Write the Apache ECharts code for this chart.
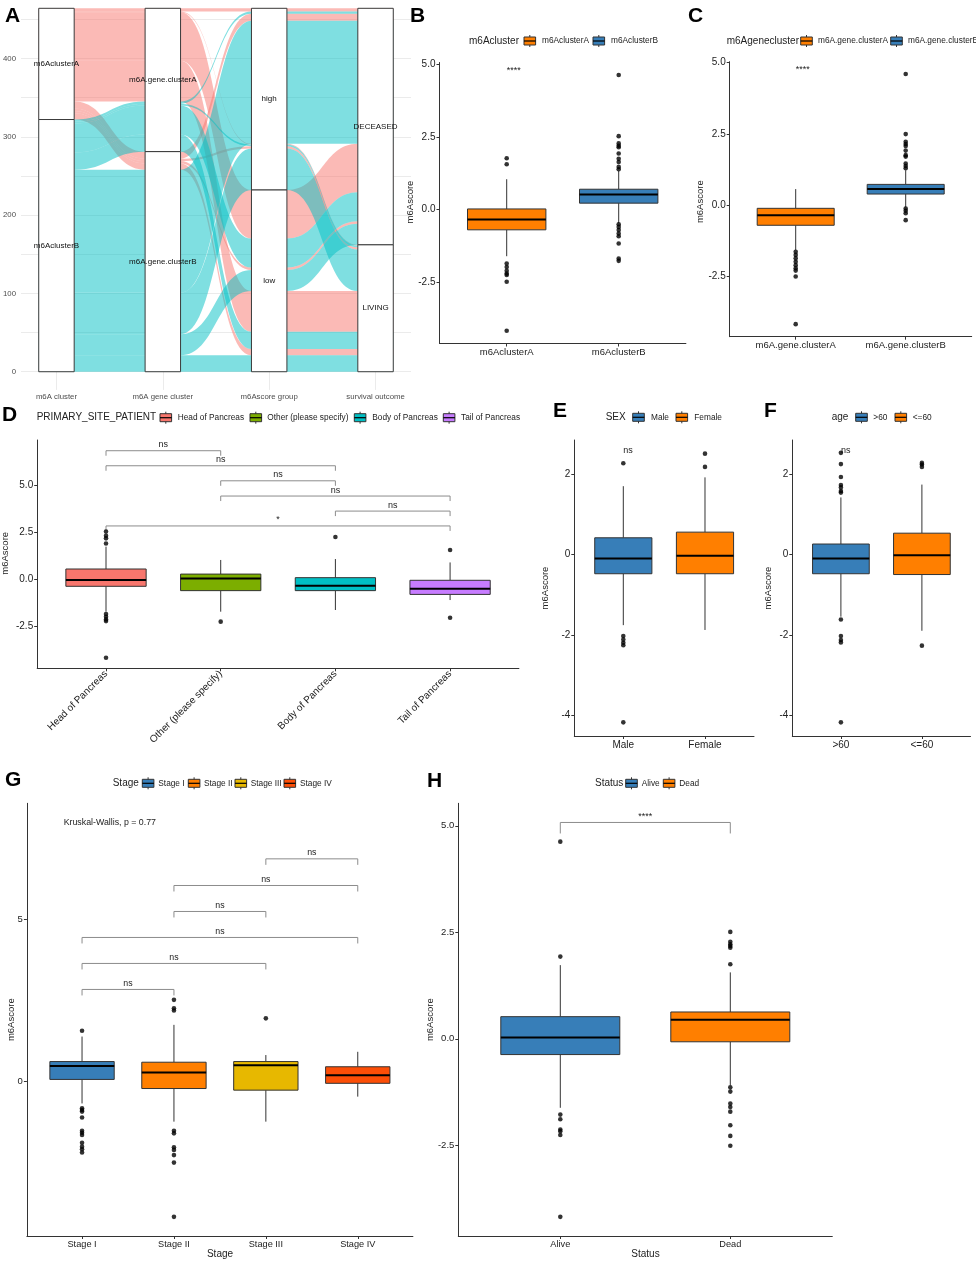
<!DOCTYPE html>
<html><head><meta charset="utf-8">
<script src="https://cdn.jsdelivr.net/npm/echarts@6/dist/echarts.min.js"></script>
<style>html,body{margin:0;padding:0;background:#fff}#c{width:976px;height:1261px}</style>
</head><body><div id="c"></div>
<script>
const FONT = '"Liberation Sans", Arial, Helvetica, sans-serif';
const BLUE = '#377EB8', ORANGE = '#FF7F00';

// ---------------- Panel A (alluvial) data ----------------
const alluvialAxes = ['m6A cluster', 'm6A gene cluster', 'm6Ascore group', 'survival outcome'];
const alluvialLevels = [
  ['m6AclusterA', 'm6AclusterB'],
  ['m6A.gene.clusterA', 'm6A.gene.clusterB'],
  ['high', 'low'],
  ['DECEASED', 'LIVING']
];
// [m6A cluster, m6A gene cluster, m6Ascore group, survival outcome, patients]
const alluvialFlows = [
  ['m6AclusterA', 'm6A.gene.clusterA', 'high', 'DECEASED', 4],
  ['m6AclusterA', 'm6A.gene.clusterA', 'high', 'LIVING', 1],
  ['m6AclusterA', 'm6A.gene.clusterA', 'low', 'DECEASED', 62],
  ['m6AclusterA', 'm6A.gene.clusterA', 'low', 'LIVING', 52],
  ['m6AclusterA', 'm6A.gene.clusterB', 'high', 'DECEASED', 9],
  ['m6AclusterA', 'm6A.gene.clusterB', 'high', 'LIVING', 3],
  ['m6AclusterA', 'm6A.gene.clusterB', 'low', 'DECEASED', 3],
  ['m6AclusterA', 'm6A.gene.clusterB', 'low', 'LIVING', 8],
  ['m6AclusterB', 'm6A.gene.clusterA', 'high', 'DECEASED', 3],
  ['m6AclusterB', 'm6A.gene.clusterA', 'high', 'LIVING', 2],
  ['m6AclusterB', 'm6A.gene.clusterA', 'low', 'DECEASED', 37],
  ['m6AclusterB', 'm6A.gene.clusterA', 'low', 'LIVING', 22],
  ['m6AclusterB', 'm6A.gene.clusterB', 'high', 'DECEASED', 157],
  ['m6AclusterB', 'm6A.gene.clusterB', 'high', 'LIVING', 53],
  ['m6AclusterB', 'm6A.gene.clusterB', 'low', 'DECEASED', 27],
  ['m6AclusterB', 'm6A.gene.clusterB', 'low', 'LIVING', 21]
];
const alluvialFill = {'m6AclusterA': 'rgba(248,118,109,0.5)', 'm6AclusterB': 'rgba(0,191,196,0.5)'};
const alluvialTicks = [0, 100, 200, 300, 400];
const alluvialGridTicks = [0, 50, 100, 150, 200, 250, 300, 350, 400, 450];

// ---------------- Panel B ----------------
const bCats = ['m6AclusterA', 'm6AclusterB'];
const bStats = [[-1.61, -0.70, -0.345, 0.02, 1.045], [-0.47, 0.22, 0.52, 0.70, 1.33]];
const bOutliers = [
  [1.77, 1.56, -1.86, -1.98, -2.11, -2.21, -2.26, -2.49, -4.18],
  [4.64, 2.53, 2.28, 2.2, 2.15, 1.93, 1.75, 1.64, 1.47, 1.39, -0.51, -0.6, -0.71, -0.83, -0.92, -1.17, -1.69, -1.77]
];
const bTicks = [-2.5, 0, 2.5, 5];
const bNotes = [[1, 4.8, '****']];

// ---------------- Panel C ----------------
const cCats = ['m6A.gene.clusterA', 'm6A.gene.clusterB'];
const cStats = [[-1.58, -0.71, -0.36, -0.115, 0.56], [-0.08, 0.386, 0.56, 0.725, 1.22]];
const cOutliers = [
  [-1.64, -1.75, -1.87, -1.99, -2.11, -2.22, -2.30, -2.51, -4.18],
  [4.6, 2.49, 2.22, 2.14, 2.07, 1.91, 1.75, 1.70, 1.46, 1.37, 1.29, -0.12, -0.2, -0.29, -0.53]
];
const cTicks = [-2.5, 0, 2.5, 5];
const cNotes = [[1, 4.77, '****']];

// ---------------- Panel D ----------------
const dCats = ['Head of Pancreas', 'Other (please specify)', 'Body of Pancreas', 'Tail of Pancreas'];
const dStats = [[-1.72, -0.37, -0.035, 0.55, 1.74], [-1.72, -0.60, 0.05, 0.28, 1.03], [-1.63, -0.60, -0.34, 0.09, 1.08], [-1.10, -0.80, -0.50, -0.05, 0.90]];
const dOutliers = [[2.54, 2.32, 2.18, 1.91, -1.84, -1.99, -2.13, -2.22, -4.17], [-2.25], [2.25], [1.56, -2.04]];
const dTicks = [-2.5, 0, 2.5, 5];
const dBrackets = [[1, 2, 6.84, 'ns'], [1, 3, 6.04, 'ns'], [2, 3, 5.24, 'ns'], [2, 4, 4.43, 'ns'], [3, 4, 3.63, 'ns'], [1, 4, 2.84, '*']];

// ---------------- Panel E ----------------
const eCats = ['Male', 'Female'];
const eStats = [[-1.76, -0.48, -0.10, 0.415, 1.70], [-1.88, -0.48, -0.03, 0.556, 1.92]];
const eOutliers = [[2.27, -2.03, -2.12, -2.2, -2.26, -4.18], [2.51, 2.18]];
const eTicks = [-4, -2, 0, 2];
const eNotes = [[1, 2.6, 'ns']];

// ---------------- Panel F ----------------
const fCats = ['>60', '<=60'];
const fStats = [[-1.55, -0.48, -0.10, 0.26, 1.42], [-1.90, -0.50, -0.02, 0.53, 1.74]];
const fOutliers = [[2.53, 2.25, 1.93, 1.73, 1.67, 1.58, 1.54, -1.62, -2.03, -2.13, -2.19, -4.18], [2.28, 2.24, 2.18, -2.27]];
const fTicks = [-4, -2, 0, 2];
const fNotes = [[1, 2.6, 'ns']];

// ---------------- Panel G ----------------
const gCats = ['Stage I', 'Stage II', 'Stage III', 'Stage IV'];
const gStats = [[-0.67, 0.07, 0.48, 0.62, 1.39], [-1.23, -0.21, 0.28, 0.60, 1.75], [-1.23, -0.26, 0.51, 0.62, 0.82], [-0.46, -0.05, 0.20, 0.46, 0.92]];
const gOutliers = [
  [1.57, -0.82, -0.87, -0.92, -1.10, -1.51, -1.57, -1.64, -1.88, -2.00, -2.08, -2.18],
  [2.52, 2.26, 2.19, -1.51, -1.59, -2.02, -2.10, -2.26, -2.49, -4.16],
  [1.95],
  []
];
const gTicks = [0, 5];
const gBrackets = [[1, 2, 2.84, 'ns'], [1, 3, 3.64, 'ns'], [1, 4, 4.44, 'ns'], [2, 3, 5.24, 'ns'], [2, 4, 6.04, 'ns'], [3, 4, 6.86, 'ns']];
const gNotes = [[0.8, 7.98, 'Kruskal-Wallis, p = 0.77']];

// ---------------- Panel H ----------------
const hCats = ['Alive', 'Dead'];
const hStats = [[-1.62, -0.37, 0.03, 0.52, 1.73], [-1.09, -0.07, 0.45, 0.63, 1.56]];
const hOutliers = [
  [4.63, 1.93, -1.78, -1.89, -2.13, -2.17, -2.26, -4.18],
  [2.51, 2.28, 2.22, 2.18, 2.14, 1.75, -1.14, -1.24, -1.52, -1.60, -1.71, -2.03, -2.28, -2.51]
];
const hTicks = [-2.5, 0, 2.5, 5];
const hBrackets = [[1, 2, 5.08, '****']];

// ================= build =================
const grids = [], xAxes = [], yAxes = [], series = [], graphics = [];

function addGrid(l, t, r, b) {
  grids.push({left: l, top: t, width: r - l, height: b - t, containLabel: false});
  return grids.length - 1;
}

// ---- Panel A ----
(function () {
  const gi = addGrid(18.9, 8.3, 411, 389.9);
  const total = alluvialFlows.reduce((s, f) => s + f[4], 0);
  xAxes.push({type: 'value', gridIndex: gi, min: 0.6667, max: 4.3333,
    axisLine: {show: false, onZero: false}, axisTick: {show: false, customValues: [1, 2, 3, 4]},
    axisLabel: {customValues: [1, 2, 3, 4], formatter: v => alluvialAxes[Math.round(v) - 1], color: '#4D4D4D', fontSize: 7.8, fontFamily: FONT, margin: 3},
    splitLine: {show: true, lineStyle: {color: '#EBEBEB', width: 1}}});
  yAxes.push({type: 'value', gridIndex: gi, min: -23.2, max: total,
    axisLine: {show: false, onZero: false}, axisTick: {show: false, customValues: alluvialGridTicks},
    axisLabel: {customValues: alluvialTicks, color: '#4D4D4D', fontSize: 7.8, fontFamily: FONT, margin: 5},
    splitLine: {show: true, lineStyle: {color: '#EBEBEB', width: 1}}});

  const lvl = (f, k) => alluvialLevels[k].indexOf(f[k]);
  const lodeOrder = [[0, 1, 2, 3], [1, 0, 2, 3], [2, 3, 1, 0], [3, 2, 1, 0]];
  const lodes = alluvialFlows.map(() => []);
  for (let k = 0; k < 4; k++) {
    const idx = alluvialFlows.map((f, i) => i);
    idx.sort((a, b) => {
      for (const o of lodeOrder[k]) {
        const d = lvl(alluvialFlows[a], o) - lvl(alluvialFlows[b], o);
        if (d) return d;
      }
      return 0;
    });
    let top = total;
    for (const i of idx) { lodes[i][k] = [top - alluvialFlows[i][4], top]; top -= alluvialFlows[i][4]; }
  }
  const strata = [];
  for (let k = 0; k < 4; k++) {
    let top = total;
    alluvialLevels[k].forEach(name => {
      const n = alluvialFlows.filter(f => f[k] === name).reduce((s, f) => s + f[4], 0);
      strata.push([k + 1, top - n, top, name]);
      top -= n;
    });
  }
  const w = 1 / 3;
  series.push({
    type: 'custom', xAxisIndex: gi, yAxisIndex: gi, silent: true,
    data: alluvialFlows.map((f, i) => [1, 0, i]),
    renderItem: function (params, api) {
      const i = params.dataIndex, L = lodes[i];
      const P = (x, y) => api.coord([x, y]);
      let p = P(1 - w / 2, L[0][1]);
      let d = 'M' + p[0] + ',' + p[1];
      for (let k = 0; k < 4; k++) {
        const a = P(k + 1 + w / 2, L[k][1]);
        d += 'L' + a[0] + ',' + a[1];
        if (k < 3) {
          const b = P(k + 2 - w / 2, L[k + 1][1]);
          const mx = (a[0] + b[0]) / 2;
          d += 'C' + mx + ',' + a[1] + ' ' + mx + ',' + b[1] + ' ' + b[0] + ',' + b[1];
        }
      }
      p = P(4 + w / 2, L[3][0]);
      d += 'L' + p[0] + ',' + p[1];
      for (let k = 3; k >= 0; k--) {
        const a = P(k + 1 - w / 2, L[k][0]);
        d += 'L' + a[0] + ',' + a[1];
        if (k > 0) {
          const b = P(k + w / 2, L[k - 1][0]);
          const mx = (a[0] + b[0]) / 2;
          d += 'C' + mx + ',' + a[1] + ' ' + mx + ',' + b[1] + ' ' + b[0] + ',' + b[1];
        }
      }
      d += 'Z';
      return {type: 'path', shape: {pathData: d}, style: {fill: alluvialFill[alluvialFlows[i][0]], stroke: null}};
    }
  });
  series.push({
    type: 'custom', xAxisIndex: gi, yAxisIndex: gi, silent: true,
    data: strata.map(s => [s[0], s[1], s[2]]),
    renderItem: function (params, api) {
      const s = strata[params.dataIndex];
      const p1 = api.coord([s[0] - w / 2, s[2]]);
      const p2 = api.coord([s[0] + w / 2, s[1]]);
      const c = api.coord([s[0], (s[1] + s[2]) / 2]);
      return {type: 'group', children: [
        {type: 'rect', shape: {x: p1[0], y: p1[1], width: p2[0] - p1[0], height: p2[1] - p1[1]}, style: {fill: '#fff', stroke: '#3A3A3A', lineWidth: 1}},
        {type: 'text', x: c[0], y: c[1], style: {text: s[3], fill: '#111', font: '8px ' + FONT, align: 'center', verticalAlign: 'middle'}}
      ]};
    }
  });
})();

// ---- boxplot panels ----
function boxPanel(o) {
  const gi = addGrid(o.l, o.t, o.r, o.b);
  const vals = o.cats.map((c, i) => i + 1);
  xAxes.push({type: 'value', gridIndex: gi, min: 0.4, max: o.cats.length + 0.6,
    axisLine: {show: true, onZero: false, lineStyle: {color: '#333', width: 1}},
    axisTick: {show: true, customValues: vals, length: 3, lineStyle: {color: '#333', width: 1}},
    axisLabel: {customValues: vals, formatter: v => o.cats[Math.round(v) - 1], color: '#222', fontSize: o.xfs, fontFamily: FONT, margin: 4, rotate: o.rotate || 0},
    splitLine: {show: false}});
  yAxes.push({type: 'value', gridIndex: gi, min: o.ymin, max: o.ymax,
    axisLine: {show: true, onZero: false, lineStyle: {color: '#333', width: 1}},
    axisTick: {show: true, customValues: o.ticks, length: 3, lineStyle: {color: '#333', width: 1}},
    axisLabel: {customValues: o.ticks, formatter: o.fmt, color: '#222', fontSize: o.yfs, fontFamily: FONT, margin: 4},
    splitLine: {show: false}});
  const stats = o.stats, colors = o.colors;
  series.push({
    type: 'custom', xAxisIndex: gi, yAxisIndex: gi, silent: true,
    data: stats.map((s, i) => [i + 1].concat(s)),
    renderItem: function (params, api) {
      const x = api.value(0);
      const lo = api.coord([x, api.value(1)]), q1 = api.coord([x, api.value(2)]), md = api.coord([x, api.value(3)]),
        q3 = api.coord([x, api.value(4)]), hi = api.coord([x, api.value(5)]);
      const hw = api.size([0.7, 0])[0] / 2;
      const c = colors[params.dataIndex];
      return {type: 'group', children: [
        {type: 'line', shape: {x1: lo[0], y1: lo[1], x2: q1[0], y2: q1[1]}, style: {stroke: '#333', lineWidth: 1}},
        {type: 'line', shape: {x1: q3[0], y1: q3[1], x2: hi[0], y2: hi[1]}, style: {stroke: '#333', lineWidth: 1}},
        {type: 'rect', shape: {x: q3[0] - hw, y: q3[1], width: 2 * hw, height: q1[1] - q3[1]}, style: {fill: c, stroke: '#333', lineWidth: 1}},
        {type: 'line', shape: {x1: md[0] - hw, y1: md[1], x2: md[0] + hw, y2: md[1]}, style: {stroke: '#000', lineWidth: 2}}
      ]};
    }
  });
  const pts = [];
  o.outliers.forEach((arr, i) => arr.forEach(v => pts.push([i + 1, v])));
  series.push({type: 'scatter', xAxisIndex: gi, yAxisIndex: gi, silent: true, symbol: 'circle', symbolSize: 4.6,
    itemStyle: {color: '#000'}, data: pts, z: 3});
  if (o.brackets) {
    const br = o.brackets, tip = o.tip;
    series.push({
      type: 'custom', xAxisIndex: gi, yAxisIndex: gi, silent: true, z: 3,
      data: br.map(b => [b[0], b[2], b[1]]),
      renderItem: function (params, api) {
        const b = br[params.dataIndex];
        const p1 = api.coord([b[0], b[2]]), p2 = api.coord([b[1], b[2]]);
        return {type: 'group', children: [
          {type: 'polyline', shape: {points: [[p1[0], p1[1] + tip], [p1[0], p1[1]], [p2[0], p2[1]], [p2[0], p2[1] + tip]]}, style: {stroke: '#8C8C8C', lineWidth: 1, fill: null}},
          {type: 'text', x: (p1[0] + p2[0]) / 2, y: p1[1] - 1.5, style: {text: b[3], fill: '#222', font: o.notefs + 'px ' + FONT, align: 'center', verticalAlign: 'bottom'}}
        ]};
      }
    });
  }
  if (o.notes) {
    const nt = o.notes;
    series.push({
      type: 'custom', xAxisIndex: gi, yAxisIndex: gi, silent: true, z: 3,
      data: nt.map(n => [n[0], n[1]]),
      renderItem: function (params, api) {
        const n = nt[params.dataIndex];
        const p = api.coord([n[0], n[1]]);
        return {type: 'text', x: p[0], y: p[1], style: {text: n[2], fill: '#222', font: o.notefs + 'px ' + FONT, align: 'left', verticalAlign: 'middle'}};
      }
    });
  }
}

const f1 = v => v.toFixed(1), f0 = v => String(v);
boxPanel({l: 439.5, t: 62.5, r: 685.9, b: 343.5, ymin: -4.62, ymax: 5.07, cats: bCats, stats: bStats, outliers: bOutliers, colors: [ORANGE, BLUE], ticks: bTicks, fmt: f1, xfs: 9.5, yfs: 10, notes: bNotes, notefs: 9});
boxPanel({l: 729.7, t: 61.7, r: 971.7, b: 336.7, ymin: -4.62, ymax: 5.03, cats: cCats, stats: cStats, outliers: cOutliers, colors: [ORANGE, BLUE], ticks: cTicks, fmt: f1, xfs: 9.5, yfs: 10, notes: cNotes, notefs: 9});
boxPanel({l: 37.2, t: 440, r: 518.9, b: 668.3, ymin: -4.73, ymax: 7.41, cats: dCats, stats: dStats, outliers: dOutliers, colors: ['#F8766D', '#7CAE00', '#00BFC4', '#C77CFF'], ticks: dTicks, fmt: f1, xfs: 10, yfs: 10, rotate: 45, brackets: dBrackets, tip: 5, notefs: 9});
boxPanel({l: 574.3, t: 440, r: 754, b: 736, ymin: -4.52, ymax: 2.85, cats: eCats, stats: eStats, outliers: eOutliers, colors: [BLUE, ORANGE], ticks: eTicks, fmt: f0, xfs: 10, yfs: 10, notes: eNotes, notefs: 9});
boxPanel({l: 792.3, t: 440, r: 970.5, b: 736, ymin: -4.52, ymax: 2.85, cats: fCats, stats: fStats, outliers: fOutliers, colors: [BLUE, ORANGE], ticks: fTicks, fmt: f0, xfs: 10, yfs: 10, notes: fNotes, notefs: 9});
boxPanel({l: 26.9, t: 803.3, r: 412.9, b: 1236, ymin: -4.75, ymax: 8.57, cats: gCats, stats: gStats, outliers: gOutliers, colors: [BLUE, ORANGE, '#E7B800', '#FC4E07'], ticks: gTicks, fmt: f0, xfs: 9.2, yfs: 9.5, brackets: gBrackets, tip: 6, notes: gNotes, notefs: 8.8});
boxPanel({l: 458.3, t: 803.3, r: 832.3, b: 1236, ymin: -4.63, ymax: 5.53, cats: hCats, stats: hStats, outliers: hOutliers, colors: [BLUE, ORANGE], ticks: hTicks, fmt: f1, xfs: 9.2, yfs: 9.5, brackets: hBrackets, tip: 11, notefs: 9});

// ---- graphics: panel letters, legends, axis titles ----
function txt(x, y, s, size, opts) {
  opts = opts || {};
  graphics.push({type: 'text', x: x, y: y, rotation: opts.rot || 0, silent: true, z: 10,
    style: {text: s, fill: opts.color || '#222', font: (opts.bold ? 'bold ' : '') + size + 'px ' + FONT, textAlign: opts.align || 'left', textVerticalAlign: 'middle'}});
}
[['A', 5, 16], ['B', 410, 16], ['C', 688, 16], ['D', 2, 415.5], ['E', 553, 411.5], ['F', 764, 411], ['G', 5, 780.5], ['H', 427, 781]].forEach(a => txt(a[1], a[2], a[0], 21, {bold: true, color: '#000'}));

function legendKey(x, cy, color) {
  graphics.push({type: 'group', silent: true, z: 10, children: [
    {type: 'line', shape: {x1: x + 5.8, y1: cy - 6, x2: x + 5.8, y2: cy + 6}, style: {stroke: '#333', lineWidth: 1}},
    {type: 'rect', shape: {x: x, y: cy - 4, width: 11.6, height: 8}, style: {fill: color, stroke: '#333', lineWidth: 1}},
    {type: 'line', shape: {x1: x, y1: cy, x2: x + 11.6, y2: cy}, style: {stroke: '#000', lineWidth: 1.2}}
  ]});
}
function legend(title, tx, cy, cats, colors, keyX, labelX) {
  txt(tx, cy, title, 10);
  cats.forEach((c, i) => { legendKey(keyX[i], cy, colors[i]); txt(labelX[i], cy, c, 8.3); });
}
legend('m6Acluster', 469, 41, bCats, [ORANGE, BLUE], [524, 593], [542, 611]);
legend('m6Agenecluster', 726.7, 41, cCats, [ORANGE, BLUE], [800.7, 890.7], [818, 908]);
legend('PRIMARY_SITE_PATIENT', 36.7, 417.7, dCats, ['#F8766D', '#7CAE00', '#00BFC4', '#C77CFF'], [160, 250, 354.3, 443.3], [177.7, 267.3, 372.3, 461]);
legend('SEX', 605.7, 417.3, eCats, [BLUE, ORANGE], [632.7, 676], [651, 694.3]);
legend('age', 831.7, 417.3, fCats, [BLUE, ORANGE], [855.7, 895], [873.3, 912.7]);
legend('Stage', 112.7, 783.3, gCats, [BLUE, ORANGE, '#E7B800', '#FC4E07'], [142.3, 188.3, 235, 284], [158.3, 204, 250.7, 300]);
legend('Status', 595, 783.3, hCats, [BLUE, ORANGE], [625.7, 663.3], [641.7, 679.3]);

// axis titles
[[410, 202], [700, 201.7], [5.5, 553.3], [545.5, 588], [768.2, 588], [11.7, 1019.7], [430.7, 1019.7]].forEach(p => txt(p[0], p[1], 'm6Ascore', 9.5, {rot: Math.PI / 2, align: 'center'}));
txt(220, 1254, 'Stage', 10, {align: 'center'});
txt(645.5, 1254, 'Status', 10, {align: 'center'});

const chart = echarts.init(document.getElementById('c'), null, {renderer: 'canvas', width: 976, height: 1261});
chart.setOption({
  animation: false,
  backgroundColor: '#fff',
  textStyle: {fontFamily: FONT},
  grid: grids, xAxis: xAxes, yAxis: yAxes, series: series, graphic: graphics
});
</script></body></html>
